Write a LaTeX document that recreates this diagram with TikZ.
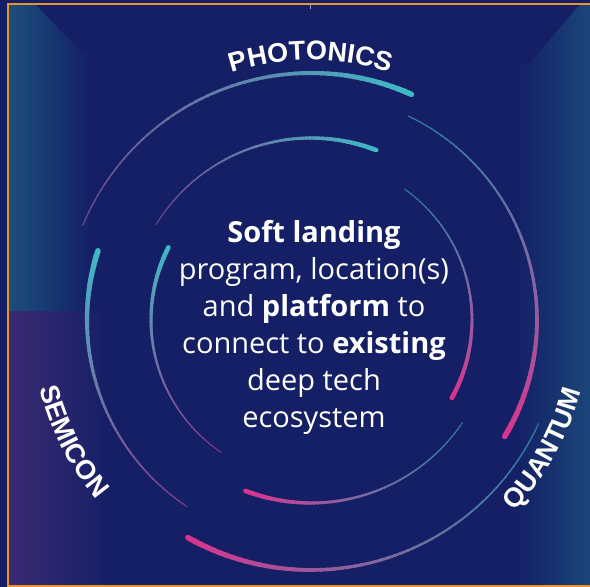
\documentclass[tikz,border=0pt]{standalone}
\usepackage{fontspec}
\setmainfont{Open Sans}
\newfontfamily\labfam{Liberation Sans Bold}
\usetikzlibrary{decorations.text}

\definecolor{bgnavy}{HTML}{141F66}
\definecolor{sideteal}{HTML}{1C4E7C}
\definecolor{sidepurple}{HTML}{3A2B72}
\definecolor{ringteal}{HTML}{3CBAC6}
\definecolor{ringpink}{HTML}{D9348F}
\definecolor{frameorange}{HTML}{E8952C}

\newcommand{\labelsize}{\labfam\fontsize{27}{30}\selectfont}

% radius, thick end, thin end, thick width, thin width, teal % at thick end, teal % at thin end
\newcommand{\ringarc}[7]{%
  \foreach \k in {0,...,59}{%
    \pgfmathsetmacro{\ta}{#2+(#3-#2)*\k/60}%
    \pgfmathsetmacro{\tb}{#2+(#3-#2)*(\k+1.3)/60}%
    \pgfmathsetmacro{\lw}{#5+(#4-#5)*(1-\k/60)^1.5}%
    \pgfmathtruncatemacro{\mix}{#6+(#7-#6)*\k/60}%
    \pgfmathtruncatemacro{\fade}{100-40*(\k/60)^1.5}%
    \draw[line width=\lw pt, line cap=round, ringteal!\mix!ringpink!\fade!bgnavy]
      (\ta:#1) arc[start angle=\ta, end angle=\tb, radius=#1];
  }}

\begin{document}
\begin{tikzpicture}[x=1pt, y=1pt,
    core/.style={text=white, align=center, font=\fontsize{29}{37}\selectfont},
    ringlabel/.style={decorate, decoration={text along path, text align=center,
      text color=white, text={|\labelsize|#1}}}]
\useasboundingbox (0,0) rectangle (590,587);
\fill[bgnavy] (0,0) rectangle (590,587);
\shade[left color=sideteal, middle color=sideteal!75!bgnavy, right color=bgnavy]
  (9,275) -- (9,583) -- (35,583) -- (80,536) -- (92,536) -- (92,275) -- cycle;
\shade[left color=sidepurple, middle color=sidepurple!65!bgnavy, right color=bgnavy]
  (9,1.5) rectangle (110,275);
\shade[left color=bgnavy, right color=sideteal!85!bgnavy]
  (515,1.5) -- (515,524) -- (530,524) -- (580,583) -- (592,583) -- (592,1.5) -- cycle;
\draw[frameorange, line width=1.8] (8.3,1.3) rectangle (595,583.3);
\draw[white!55!bgnavy, line width=0.8] (310.5,578) -- (310.5,583);

\begin{scope}[shift={(311,267)}]
  \ringarc{247}{66}{157}{5.5}{1.2}{100}{35}
  \ringarc{226}{-31}{64}{5.5}{1.2}{0}{100}
  \ringarc{224}{162}{236}{5.5}{1.2}{100}{20}
  \ringarc{250}{240.5}{335}{5.5}{1.2}{0}{100}
  \ringarc{182}{69}{148}{4.5}{1.0}{100}{35}
  \ringarc{161}{-29}{54}{4.5}{1.0}{0}{100}
  \ringarc{160}{153}{235.5}{4.5}{1.0}{100}{15}
  \ringarc{183}{249}{325.5}{4.5}{1.0}{0}{100}

  \path[ringlabel=PHOTONICS] (135:260) arc[start angle=135, end angle=45, radius=260];
  \path[ringlabel=SEMICON] (162:280) arc[start angle=162, end angle=252, radius=280];
  \path[ringlabel=QUANTUM] (-74:279) arc[start angle=-74, end angle=16, radius=279];
\end{scope}

\node[core] (hub) at (314,260) {\textbf{Soft landing}\\program, location(s)\\and \textbf{platform} to\\connect to \textbf{existing}\\deep tech\\ecosystem};
\end{tikzpicture}
\end{document}
